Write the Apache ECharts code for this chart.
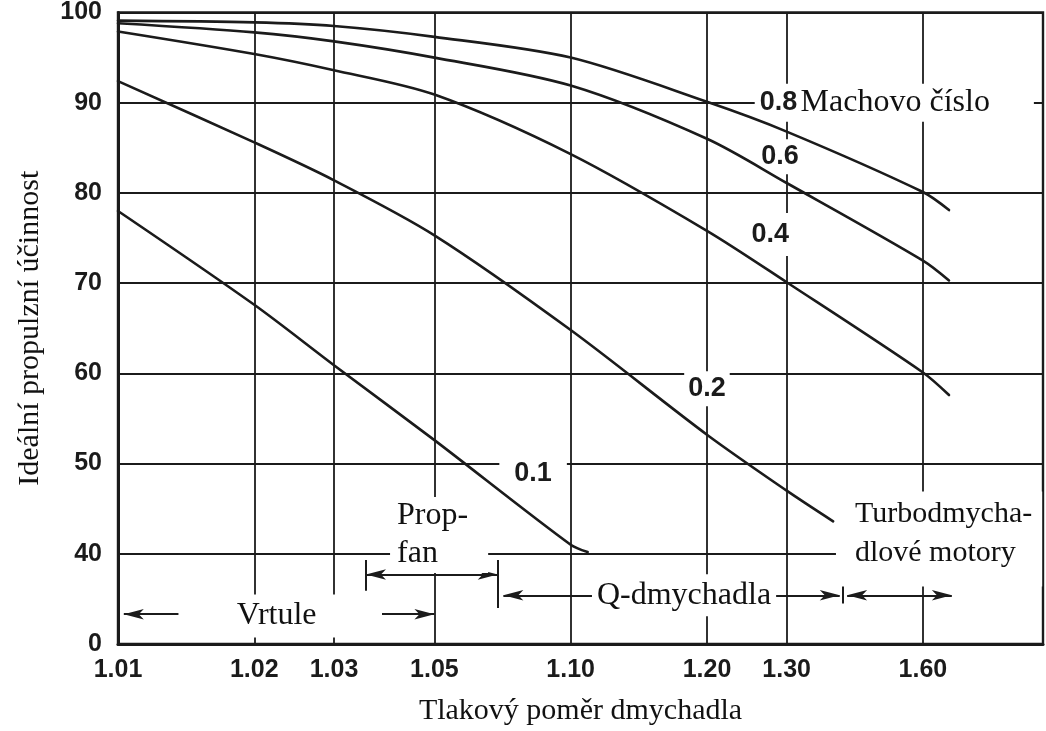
<!DOCTYPE html>
<html>
<head>
<meta charset="utf-8">
<script src="https://cdn.jsdelivr.net/npm/echarts@6/dist/echarts.min.js"></script>
<style>
  html, body { margin: 0; padding: 0; background: #fff; }
  #chart { width: 1046px; height: 731px; }
</style>
</head>
<body>
<div id="chart"></div>
<script>
// x: fan pressure ratio, plotted on a log axis of (ratio - 1)
const ratioTicks = [1.01, 1.02, 1.03, 1.05, 1.10, 1.20, 1.30, 1.60]
// y: the 0 label sits one grid step under 40 (broken axis)
const yTicks = [30, 40, 50, 60, 70, 80, 90, 100]
const yTickLabels = ['0', '40', '50', '60', '70', '80', '90', '100']

// ideal propulsive efficiency per Mach number
const curveNames = ['0.8', '0.6', '0.4', '0.2', '0.1']
const ratio08 = [1.01, 1.02, 1.03, 1.05, 1.10, 1.20, 1.30, 1.60, 1.685]
const eff08 = [99.1, 98.9, 98.5, 97.3, 95.0, 90.1, 86.8, 80.1, 78.1]
const ratio06 = [1.01, 1.02, 1.03, 1.05, 1.10, 1.20, 1.30, 1.60, 1.685]
const eff06 = [98.8, 97.8, 96.8, 95.0, 91.9, 86.0, 81.1, 72.5, 70.3]
const ratio04 = [1.01, 1.02, 1.03, 1.05, 1.10, 1.20, 1.30, 1.60, 1.685]
const eff04 = [97.9, 95.4, 93.6, 90.9, 84.3, 75.8, 70.1, 60.1, 57.6]
const ratio02 = [1.01, 1.02, 1.03, 1.05, 1.10, 1.20, 1.30, 1.38]
const eff02 = [92.4, 85.6, 81.4, 75.3, 64.8, 53.2, 47.0, 43.6]
const ratio01 = [1.01, 1.02, 1.03, 1.05, 1.10, 1.109]
const eff01 = [78.0, 67.6, 60.9, 52.6, 41.0, 40.2]

// annotations (data coordinates)
const noteTexts = ['0.8 Machovo číslo', '0.6', '0.4', '0.2', '0.1', 'Prop-\nfan', 'Vrtule', 'Q-dmychadla', 'Turbodmycha-\ndlové motory']
const noteRatios = [1.255, 1.29, 1.276, 1.20, 1.0826, 1.0399, 1.0144, 1.178, 1.3855]
const noteValues = [90, 84.0, 75.4, 58.3, 48.9, 46.3, 33.1, 35.4, 46.9]

// range arrows: [from ratio, to ratio, value, arrow at from, arrow at to]
const arrowSegs = [
  [1.0103, 1.0136, 33.3, 1, 0],
  [1.0383, 1.05, 33.3, 0, 1],
  [1.0353, 1.069, 37.7, 1, 1],
  [1.071, 1.393, 35.4, 1, 1],
  [1.408, 1.695, 35.4, 1, 1],
]
// end bars: [ratio, low value, high value]
const barSegs = [
  [1.0353, 35.9, 39.3],
  [1.069, 34.0, 39.3],
  [1.40, 34.5, 36.8],
]

const INK = '#1b1b1b'
const SERIF = '"Liberation Serif", "Times New Roman", serif'
const SANS = '"Liberation Sans", Arial, sans-serif'

function pts(ratios, effs) {
  return ratios.map((r, i) => [r - 1, effs[i]])
}

const curves = [
  [ratio08, eff08], [ratio06, eff06], [ratio04, eff04], [ratio02, eff02], [ratio01, eff01]
]

const curveSeries = curves.map((c, i) => ({
  name: curveNames[i],
  type: 'line',
  data: pts(c[0], c[1]),
  smooth: 0.3,
  showSymbol: false,
  silent: true,
  z: 5,
  lineStyle: { color: INK, width: 2.6, cap: 'round' },
}))

const numStyle = { fontFamily: SANS, fontWeight: 'bold', fontSize: 27, color: INK }
const serifStyle = { fontFamily: SERIF, fontSize: 32, color: '#111' }

// label box styles: white backgrounds cut the grid lines like in the print
const noteStyles = [
  { align: 'left', verticalAlign: 'middle', padding: [3, 44, 3, 5],
    rich: { n: numStyle, t: serifStyle } },
  Object.assign({}, numStyle, { align: 'center', verticalAlign: 'middle', padding: [4, 4] }),
  Object.assign({}, numStyle, { align: 'center', verticalAlign: 'middle', padding: [8, 4] }),
  Object.assign({}, numStyle, { align: 'center', verticalAlign: 'middle', padding: [4, 4] }),
  Object.assign({}, numStyle, { align: 'center', verticalAlign: 'middle', padding: [6, 15] }),
  Object.assign({}, serifStyle, { align: 'left', verticalAlign: 'top', padding: [0, 20, 0, 7], lineHeight: 38 }),
  Object.assign({}, serifStyle, { align: 'left', verticalAlign: 'middle', padding: [3, 58, 3, 47], lineHeight: 37 }),
  Object.assign({}, serifStyle, { align: 'center', verticalAlign: 'middle', padding: [3, 5], lineHeight: 36 }),
  Object.assign({}, serifStyle, { align: 'left', verticalAlign: 'top', padding: [3, 10, 14, 19], lineHeight: 39, fontSize: 30 }),
]

const noteData = noteTexts.map((t, i) => {
  const text = i === 0 ? '{n|0.8} {t|Machovo číslo}' : t
  return {
    value: [noteRatios[i] - 1, noteValues[i]],
    label: Object.assign({
      show: true,
      position: 'inside',
      formatter: text,
      backgroundColor: '#fff',
    }, noteStyles[i]),
  }
})

const ARROW = { symbol: 'arrow', symbolSize: [8, 20] }
const NONE = { symbol: 'none' }
const markData = arrowSegs.map(s => [
  Object.assign({ coord: [s[0] - 1, s[2]] }, s[3] ? ARROW : NONE),
  Object.assign({ coord: [s[1] - 1, s[2]] }, s[4] ? ARROW : NONE),
]).concat(barSegs.map(b => [
  Object.assign({ coord: [b[0] - 1, b[1]] }, NONE),
  Object.assign({ coord: [b[0] - 1, b[2]] }, NONE),
]))

const chart = echarts.init(document.getElementById('chart'))

chart.setOption({
  animation: false,
  backgroundColor: '#fff',
  grid: {
    left: 118, right: 3, top: 7, bottom: 84,
    show: true, borderColor: INK, borderWidth: 2.4,
  },
  xAxis: {
    type: 'log',
    logBase: 10,
    min: 0.01,
    max: 1.105,
    name: 'Tlakový poměr dmychadla',
    nameLocation: 'middle',
    nameGap: 52,
    nameTextStyle: { fontFamily: SERIF, fontSize: 30, color: '#111' },
    axisLine: { show: true, lineStyle: { color: INK, width: 3 } },
    axisTick: { show: false, customValues: ratioTicks.map(r => r - 1) },
    axisLabel: {
      customValues: ratioTicks.map(r => r - 1),
      formatter: v => (v + 1).toFixed(2),
      margin: 14,
      fontFamily: SANS, fontWeight: 'bold', fontSize: 25, color: INK,
    },
    splitLine: { show: true, lineStyle: { color: INK, width: 1.8 } },
  },
  yAxis: {
    type: 'value',
    min: 30,
    max: 100,
    interval: 10,
    name: 'Ideální propulzní účinnost',
    nameLocation: 'middle',
    nameRotate: 90,
    nameGap: 73,
    nameTextStyle: { fontFamily: SERIF, fontSize: 30, color: '#111' },
    axisLine: { show: true, lineStyle: { color: INK, width: 3 } },
    axisTick: { show: false },
    axisLabel: {
      formatter: v => yTickLabels[yTicks.indexOf(v)],
      margin: 16,
      fontFamily: SANS, fontWeight: 'bold', fontSize: 25, color: INK,
    },
    splitLine: { show: true, lineStyle: { color: INK, width: 1.8 } },
  },
  series: curveSeries.concat([
    {
      name: 'ranges',
      type: 'line',
      data: [],
      z: 2,
      markLine: {
        z: 2,
        silent: true,
        animation: false,
        label: { show: false },
        lineStyle: { color: INK, width: 2, type: 'solid' },
        emphasis: { disabled: true },
        data: markData,
      },
    },
    {
      name: 'notes',
      type: 'scatter',
      symbolSize: 0,
      silent: true,
      z: 3,
      itemStyle: { opacity: 1 },
      data: noteData,
    },
  ]),
})
</script>
</body>
</html>
